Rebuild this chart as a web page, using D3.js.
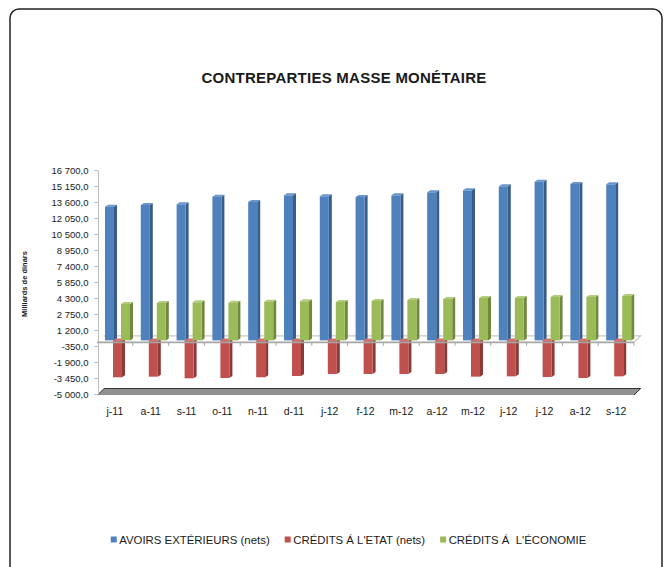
<!DOCTYPE html>
<html>
<head>
<meta charset="utf-8">
<script src="https://cdn.jsdelivr.net/npm/d3@7"></script>
<style>
  body { margin: 0; background: #fff; }
  svg text { font-family: "Liberation Sans", Arial, sans-serif; fill: #1a1a1a; white-space: pre; }
</style>
</head>
<body>
<script>
// months (labels repeat, so the scale works on the index)
var categories = ["j-11","a-11","s-11","o-11","n-11","d-11","j-12","f-12","m-12","a-12","m-12","j-12","j-12","a-12","s-12"];

var avoirsExterieurs = [13145, 13310, 13375, 14115, 13600, 14245, 14150, 14085, 14245, 14540, 14730, 15120, 15565, 15345, 15310];
var creditsEtat      = [-3380, -3320, -3480, -3450, -3380, -3255, -3060, -3060, -3060, -3060, -3320, -3290, -3350, -3450, -3290];
var creditsEconomie  = [3720, 3815, 3880, 3850, 3945, 3980, 3915, 4010, 4105, 4205, 4300, 4300, 4395, 4395, 4495];

var seriesNames = ["AVOIRS EXTÉRIEURS (nets)", "CRÉDITS Á L'ETAT (nets)", "CRÉDITS Á  L'ÉCONOMIE"];
var yTicks = [-5000, -3450, -1900, -350, 1200, 2750, 4300, 5850, 7400, 8950, 10500, 12050, 13600, 15150, 16700];

var W = 667, H = 567;
var colors = [
  {front: "#4f81bd", side: "#385d8a", top: "#6a95cb"},
  {front: "#c0504d", side: "#8c3a38", top: "#d46f6c"},
  {front: "#9bbb59", side: "#71893f", top: "#b2cc7c"}
];
var depth = {dx: 3, dy: -2};      // bar depth
var wall = {dx: 6.7, dy: -6.5};   // floor depth

var svg = d3.select("body").append("svg")
    .attr("width", W)
    .attr("height", H);

// outer frame
svg.append("rect")
    .attr("x", 10).attr("y", 9)
    .attr("width", 652).attr("height", 575)
    .attr("rx", 9)
    .attr("fill", "none")
    .attr("stroke", "#222")
    .attr("stroke-width", 1.5);

svg.append("text")
    .attr("x", 344).attr("y", 83)
    .attr("text-anchor", "middle")
    .style("font-size", "15px")
    .style("letter-spacing", "0.25px")
    .style("font-weight", "bold")
    .text("CONTREPARTIES MASSE MONÉTAIRE");

var x = d3.scaleBand()
    .domain(d3.range(categories.length))
    .range([97, 634]);

var xs = d3.scaleBand()
    .domain([0, 1, 2])
    .range([8, 32]);

var y = d3.scaleLinear()
    .domain([-5000, 16700])
    .range([394, 170]);

var fmt = d3.formatLocale({decimal: ",", thousands: "\u00a0", grouping: [3], currency: ["", ""], minus: "-"}).format(",.1f");

// bottom slab at the axis minimum
var yb = y(-5000) + 1;
svg.append("path")
    .attr("d", "M97.5," + yb + "L634," + yb + "L" + (634 + wall.dx) + "," + (yb + wall.dy) +
               "L" + (97.5 + wall.dx) + "," + (yb + wall.dy) + "Z")
    .attr("fill", "#919191");
svg.append("path")
    .attr("d", "M97.5," + yb + "L" + (97.5 + wall.dx) + "," + (yb + wall.dy) +
               "L" + (634 + wall.dx) + "," + (yb + wall.dy) + "L634," + yb)
    .attr("fill", "none")
    .attr("stroke", "#333")
    .attr("stroke-width", 1);

// zero floor
var y0 = y(0);
svg.append("path")
    .attr("d", "M" + (97 + wall.dx) + "," + (y0 + wall.dy) + "L" + (634 + wall.dx) + "," + (y0 + wall.dy) +
               "L634," + y0)
    .attr("fill", "none")
    .attr("stroke", "#c8c8c8")
    .attr("stroke-width", 1.2);

// y axis
var yAxis = svg.append("g")
    .attr("transform", "translate(98,0)")
    .call(d3.axisLeft(y).tickValues(yTicks).tickFormat(fmt).tickSize(4).tickSizeOuter(0).tickPadding(5.5));
yAxis.select(".domain").attr("stroke", "#bfbfbf");
yAxis.selectAll(".tick line").attr("stroke", "#bfbfbf");
yAxis.selectAll("text").style("font-size", "9.5px").attr("fill", "#1a1a1a");

svg.append("text")
    .attr("transform", "translate(27,284) rotate(-90)")
    .attr("text-anchor", "middle")
    .style("font-size", "7.5px")
    .style("font-weight", "bold")
    .text("Milliards de dinars");

// bars
var series = [avoirsExterieurs, creditsEtat, creditsEconomie];
var bars = [];
categories.forEach(function(c, i) {
  series.forEach(function(s, k) {
    bars.push({i: i, k: k, v: s[i]});
  });
});

var barW = xs.bandwidth() + 1;
var g = svg.append("g");
bars.forEach(function(d) {
  var bx = x(d.i) + xs(d.k);
  var yt = Math.min(y(d.v), y0 - 2);
  var yB = Math.max(y(d.v), y0 - 2);
  var col = colors[d.k];
  g.append("path")
      .attr("d", "M" + (bx + barW) + "," + yt + "l" + depth.dx + "," + depth.dy +
                 "L" + (bx + barW + depth.dx) + "," + (yB + depth.dy) + "L" + (bx + barW) + "," + yB + "Z")
      .attr("fill", col.side);
  g.append("path")
      .attr("d", "M" + bx + "," + yt + "l" + depth.dx + "," + depth.dy + "l" + barW + ",0l" + (-depth.dx) + "," + (-depth.dy) + "Z")
      .attr("fill", col.top);
  g.append("rect")
      .attr("x", bx).attr("y", yt)
      .attr("width", barW).attr("height", yB - yt)
      .attr("fill", col.front);
});

// zero floor front edge with category ticks
svg.append("line")
    .attr("x1", 97).attr("x2", 634)
    .attr("y1", y0).attr("y2", y0)
    .attr("stroke", "#a6a6a6")
    .attr("stroke-width", 1.6);
svg.selectAll(".zt")
    .data(d3.range(1, categories.length + 1))
    .enter().append("line")
    .attr("x1", d => x.step() * d + 97).attr("x2", d => x.step() * d + 97)
    .attr("y1", y0).attr("y2", y0 + 3.5)
    .attr("stroke", "#a6a6a6");

// x axis labels
var xAxis = svg.append("g")
    .attr("transform", "translate(0,404)")
    .call(d3.axisBottom(x).tickFormat(i => categories[i]).tickSize(0).tickPadding(4));
xAxis.select(".domain").remove();
xAxis.selectAll("text").style("font-size", "10.5px").attr("fill", "#1a1a1a");

// legend
var legend = svg.append("g");
var lx = 0;
seriesNames.forEach(function(name, k) {
  legend.append("rect")
      .attr("x", lx).attr("y", 536.5)
      .attr("width", 6).attr("height", 6)
      .attr("fill", colors[k].front);
  var t = legend.append("text")
      .attr("x", lx + 8.5).attr("y", 543.5)
      .style("font-size", "11.4px")
      .text(name);
  lx += 8.5 + t.node().getComputedTextLength() + 15;
});
var lw = lx - 15;
legend.attr("transform", "translate(" + (348.5 - lw / 2) + ",0)");
</script>
</body>
</html>
